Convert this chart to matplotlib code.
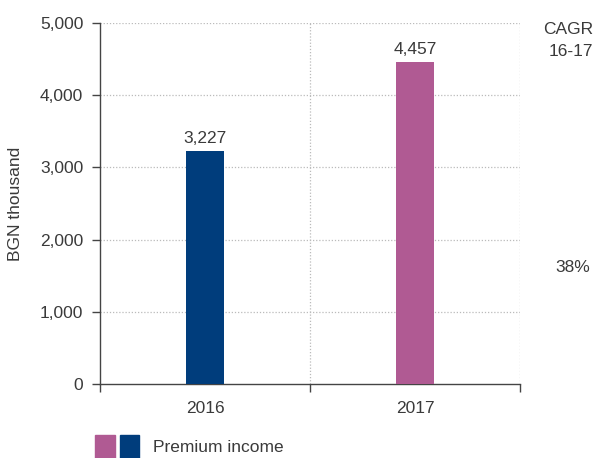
import numpy as np
import matplotlib.pyplot as plt
from matplotlib.patches import Rectangle

years = ['2016', '2017']
premium = [3227, 4457]
bar_colors = ['#003d7c', '#b05a93']
cagr_label = 'CAGR\n16-17'
cagr_value = '38%'

plt.rcParams['font.family'] = ['Liberation Sans', 'DejaVu Sans']
text_col = '#3a3a3a'
fs = 12.5

fig = plt.figure(figsize=(5.97, 4.58), dpi=100)
ax = fig.add_axes([0.1675, 0.1616, 0.7035, 0.7882])

x = np.arange(len(years))
ax.bar(x, premium, width=0.18, color=bar_colors, zorder=3)
for xi, v in zip(x, premium):
    ax.text(xi, v + 70, f'{v:,}', ha='center', va='bottom', fontsize=fs, color=text_col)

ax.set_xlim(-0.5, 1.5)
ax.set_ylim(0, 5000)
ax.set_yticks(np.arange(0, 5001, 1000))
ax.set_yticklabels([f'{v:,}' for v in range(0, 5001, 1000)])
ax.set_xticks([-0.5, 0.5, 1.5], minor=False)
ax.set_xticklabels(['', '', ''])
ax.set_xticks(x, minor=True)
ax.set_xticklabels(years, minor=True)
ax.tick_params(axis='x', which='minor', length=0, pad=12, labelsize=fs, labelcolor=text_col)
ax.tick_params(axis='x', which='major', length=6, width=1, color='#444444', direction='out')
ax.tick_params(axis='y', length=6, width=1, color='#444444', labelsize=fs, labelcolor=text_col, pad=6)

for y in range(1000, 5001, 1000):
    ax.axhline(y, color='#bbbbbb', linestyle=(0, (1, 1.5)), linewidth=0.9, zorder=1)
for xv in [0.5, 1.5]:
    ax.axvline(xv, color='#bbbbbb', linestyle=(0, (1, 1.5)), linewidth=0.9, zorder=1)

ax.spines['top'].set_visible(False)
ax.spines['right'].set_visible(False)
ax.spines['left'].set_color('#444444')
ax.spines['bottom'].set_color('#444444')
ax.spines['left'].set_linewidth(1)
ax.spines['bottom'].set_linewidth(1)

ax.set_ylabel('BGN thousand', fontsize=fs, color=text_col, labelpad=12)

fig.text(593 / 597, 1 - 30 / 458, 'CAGR', ha='right', va='center', fontsize=fs, color=text_col)
fig.text(593 / 597, 1 - 52 / 458, '16-17', ha='right', va='center', fontsize=fs, color=text_col)
fig.text(555 / 597, 1 - 268 / 458, cagr_value, ha='left', va='center', fontsize=fs, color=text_col)

# legend squares
fig.patches.append(Rectangle((95 / 597, 0), 20 / 597, 23 / 458,
                             transform=fig.transFigure, color=bar_colors[1]))
fig.patches.append(Rectangle((120 / 597, 0), 19 / 597, 23 / 458,
                             transform=fig.transFigure, color=bar_colors[0]))
fig.text(153 / 597, 1 - 448 / 458, 'Premium income', ha='left', va='center',
         fontsize=fs, color=text_col)

fig.savefig('out.png', dpi=100)
